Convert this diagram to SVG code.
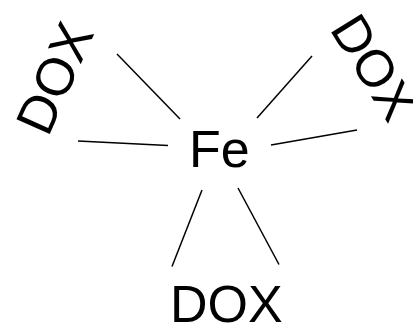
<svg xmlns="http://www.w3.org/2000/svg" width="413" height="327" viewBox="0 0 413 327">
<style>
text{font-family:"Liberation Sans",Arial,sans-serif;font-size:52px;fill:#000}
.b{stroke:#000;stroke-width:1.5;fill:none}
</style>
<rect width="413" height="327" fill="#fff"/>
<g id="connectors">
<line class="b" x1="117" y1="54" x2="180" y2="119"/>
<line class="b" x1="312" y1="56" x2="257" y2="118"/>
<line class="b" x1="78" y1="141" x2="168" y2="145.5"/>
<line class="b" x1="357" y1="130" x2="271" y2="145"/>
<line class="b" x1="202" y1="190" x2="172" y2="266.5"/>
<line class="b" x1="238" y1="188" x2="279" y2="264.5"/>
</g>
<g id="fe"><text x="189" y="167">Fe</text></g>
<g id="dox-left"><text style="font-size:53px" transform="translate(48 138) rotate(-66)">DOX</text></g>
<g id="dox-right"><text transform="translate(329 29) rotate(58)">DOX</text></g>
<g id="dox-bottom"><text x="170" y="322">DOX</text></g>
</svg>
